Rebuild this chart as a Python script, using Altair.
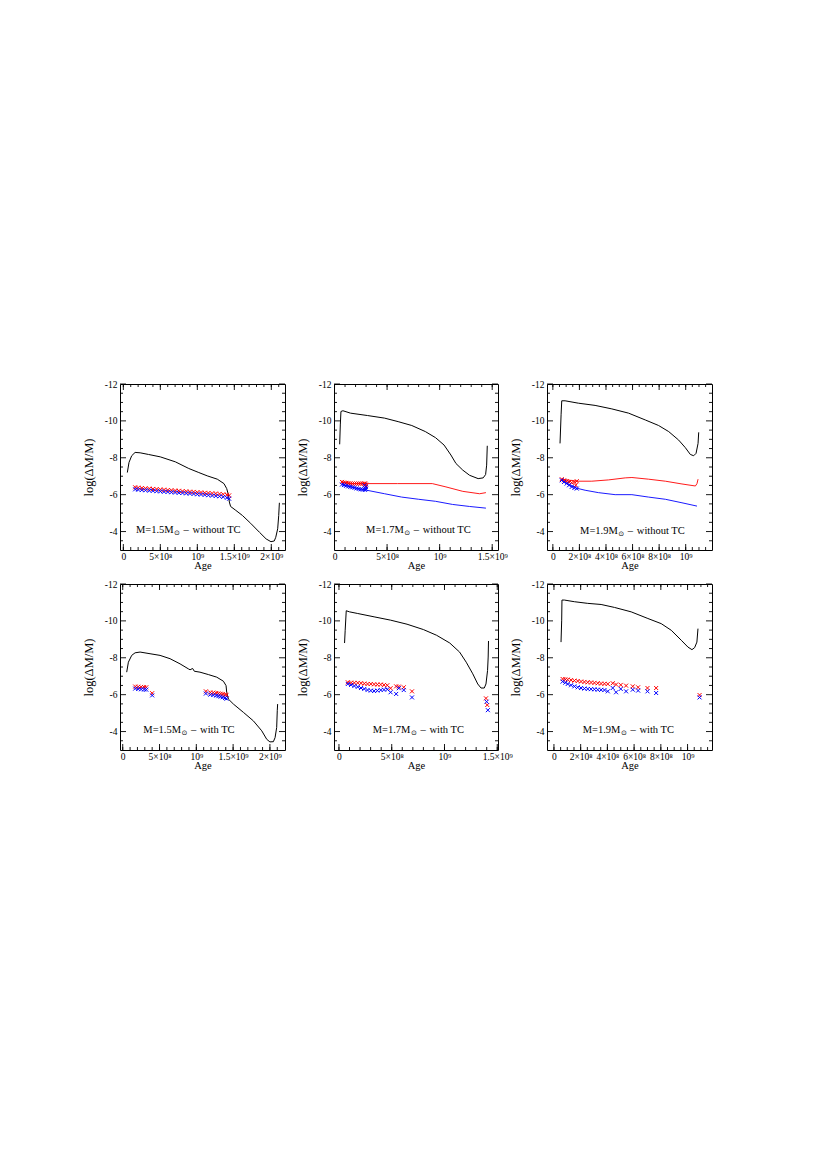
import altair as alt
import pandas as pd

FONT = "Liberation Serif"
RED = "#ff0000"
BLUE = "#0000ff"
SUN = "\u2299"
CROSS = "M-1,-1L1,1M-1,1L1,-1"

# ---------------- axis ticks / labels ----------------
Y_MAJOR = [-12, -10, -8, -6, -4]
Y_MINOR = [-11.5, -11, -10.5, -9.5, -9, -8.5, -7.5, -7, -6.5, -5.5, -5, -4.5, -3.5]
X_MAJOR_A = [0.0, 5e8, 1e9, 1.5e9, 2e9]
X_LABEL_A = ["0", "5×10⁸", "10⁹", "1.5×10⁹", "2×10⁹"]
X_MAJOR_B = [0.0, 5e8, 1e9, 1.5e9]
X_LABEL_B = ["0", "5×10⁸", "10⁹", "1.5×10⁹"]
X_MAJOR_C = [0.0, 2e8, 4e8, 6e8, 8e8, 1e9]
X_LABEL_C = ["0", "2×10⁸", "4×10⁸", "6×10⁸", "8×10⁸", "10⁹"]
X_MINOR_A = [i * 1e8 for i in range(0, 22)]
X_MINOR_B = [i * 1e8 for i in range(0, 16)]
X_MINOR_C = [i * 5e7 for i in range(0, 24)]

# ---------------- data (ages in units of 1e9 yr) ----------------
# Panel 1: M=1.5, without TC
p1_black_age = [0.054, 0.077, 0.113, 0.159, 0.227, 0.34, 0.499, 0.703, 0.884, 1.02, 1.134, 1.27, 1.36, 1.397,
                1.42, 1.433, 1.45, 1.52, 1.61, 1.72, 1.84, 1.93, 1.995, 2.04, 2.06, 2.086, 2.1, 2.109]
p1_black_val = [-7.2, -7.75, -8.11, -8.29, -8.27, -8.18, -8.05, -7.78, -7.42, -7.2, -7.02, -6.84, -6.6, -6.33,
                -6.0, -5.6, -5.36, -5.15, -4.87, -4.45, -3.96, -3.6, -3.45, -3.49, -3.69, -4.15, -4.87, -5.56]
p1_band_age = [0.16, 0.2, 0.25, 0.3, 0.35, 0.4, 0.45, 0.5, 0.55, 0.6, 0.65, 0.7, 0.75, 0.8, 0.85, 0.9, 0.95,
               1.0, 1.05, 1.1, 1.15, 1.2, 1.25, 1.3, 1.35, 1.4, 1.43]
p1_red_val = [-6.40, -6.38, -6.36, -6.34, -6.33, -6.31, -6.30, -6.28, -6.27, -6.25, -6.24, -6.22, -6.21, -6.19,
              -6.18, -6.16, -6.15, -6.13, -6.12, -6.10, -6.09, -6.07, -6.06, -6.04, -6.02, -5.99, -5.96]
p1_blue_val = [-6.29, -6.27, -6.25, -6.24, -6.22, -6.21, -6.19, -6.18, -6.16, -6.15, -6.13, -6.12, -6.10, -6.09,
               -6.07, -6.06, -6.04, -6.02, -6.01, -5.99, -5.97, -5.95, -5.93, -5.91, -5.88, -5.83, -5.78]

# Panel 2: M=1.7, without TC
p2_black_age = [0.049, 0.055, 0.061, 0.08, 0.152, 0.314, 0.476, 0.605, 0.735, 0.864, 0.961, 1.042, 1.107, 1.155,
                1.22, 1.285, 1.366, 1.414, 1.437, 1.447, 1.453]
p2_black_val = [-8.73, -9.78, -10.51, -10.55, -10.42, -10.29, -10.15, -9.96, -9.75, -9.42, -9.09, -8.69, -8.15,
                -7.69, -7.33, -7.05, -6.87, -6.91, -7.09, -7.6, -8.65]
p2_redl_age = [0.071, 0.15, 0.298, 0.6, 0.93, 1.06, 1.22, 1.38, 1.44]
p2_redl_val = [-6.67, -6.6, -6.6, -6.6, -6.6, -6.42, -6.18, -6.05, -6.11]
p2_bluel_age = [0.071, 0.168, 0.298, 0.476, 0.638, 0.8, 0.961, 1.123, 1.285, 1.44]
p2_bluel_val = [-6.55, -6.4, -6.25, -6.05, -5.87, -5.75, -5.64, -5.47, -5.36, -5.27]
p2_pts_age = [0.071, 0.09, 0.11, 0.13, 0.15, 0.17, 0.19, 0.21, 0.23, 0.25, 0.27, 0.29, 0.298, 0.298, 0.285]
p2_redp_val = [-6.69, -6.66, -6.64, -6.62, -6.61, -6.6, -6.6, -6.6, -6.6, -6.6, -6.6, -6.6, -6.55, -6.47, -6.6]
p2_bluep_val = [-6.55, -6.52, -6.48, -6.45, -6.42, -6.4, -6.37, -6.34, -6.31, -6.29, -6.27, -6.26, -6.32, -6.42, -6.5]

# Panel 3: M=1.9, without TC
p3_black_age = [0.054, 0.062, 0.067, 0.092, 0.192, 0.318, 0.444, 0.57, 0.696, 0.796, 0.872, 0.947, 0.997, 1.035,
                1.06, 1.078, 1.093, 1.098]
p3_black_val = [-8.78, -10.33, -11.09, -11.09, -10.96, -10.84, -10.65, -10.42, -10.05, -9.75, -9.42, -8.96, -8.55,
                -8.18, -8.11, -8.24, -8.78, -9.38]
p3_redl_age = [0.067, 0.18, 0.293, 0.419, 0.545, 0.595, 0.72, 0.847, 0.972, 1.073, 1.085, 1.093]
p3_redl_val = [-6.84, -6.73, -6.73, -6.8, -6.91, -6.93, -6.84, -6.73, -6.58, -6.47, -6.6, -6.84]
p3_bluel_age = [0.067, 0.18, 0.243, 0.343, 0.469, 0.595, 0.72, 0.847, 0.972, 1.085]
p3_bluel_val = [-6.78, -6.35, -6.24, -6.11, -6.0, -6.0, -5.87, -5.75, -5.56, -5.38]
p3_redp_age = [0.067, 0.085, 0.104, 0.122, 0.142, 0.162, 0.18, 0.173]
p3_redp_val = [-6.84, -6.78, -6.73, -6.69, -6.65, -6.69, -6.73, -6.51]
p3_bluep_age = [0.067, 0.085, 0.104, 0.122, 0.142, 0.162, 0.18]
p3_bluep_val = [-6.78, -6.69, -6.6, -6.51, -6.42, -6.36, -6.33]

# Panel 4: M=1.5, with TC
p4_black_age = [0.054, 0.077, 0.122, 0.168, 0.236, 0.371, 0.507, 0.643, 0.779, 0.892, 0.915, 0.95, 0.973, 1.05,
                1.163, 1.277, 1.368, 1.404, 1.413, 1.436, 1.504, 1.64, 1.775, 1.889, 1.957, 2.0, 2.047, 2.07,
                2.092, 2.1, 2.105]
p4_black_val = [-7.22, -7.76, -8.13, -8.27, -8.31, -8.22, -8.13, -7.95, -7.67, -7.4, -7.35, -7.42, -7.27, -7.22,
                -7.09, -6.95, -6.73, -6.49, -6.13, -5.76, -5.49, -5.04, -4.58, -4.04, -3.58, -3.44, -3.45, -3.67,
                -4.22, -5.13, -5.49]
p4_pts_age = [0.17, 0.21, 0.25, 0.29, 0.32, 0.40, 1.13, 1.19, 1.23, 1.27, 1.30, 1.33, 1.36, 1.39, 1.41]
p4_red_val = [-6.44, -6.43, -6.42, -6.41, -6.40, -6.08, -6.18, -6.12, -6.11, -6.09, -6.07, -6.05, -6.03, -6.01, -5.99]
p4_blue_val = [-6.33, -6.31, -6.29, -6.28, -6.27, -5.96, -6.06, -6.0, -5.98, -5.95, -5.92, -5.89, -5.86, -5.82, -5.78]

# Panel 5: M=1.7, with TC
p5_black_age = [0.053, 0.059, 0.069, 0.1, 0.178, 0.333, 0.489, 0.645, 0.8, 0.925, 1.05, 1.143, 1.206, 1.268,
                1.315, 1.346, 1.377, 1.393, 1.408, 1.414, 1.417]
p5_black_val = [-8.8, -9.49, -10.55, -10.49, -10.4, -10.22, -10.04, -9.82, -9.53, -9.22, -8.8, -8.31, -7.76, -7.13,
                -6.58, -6.36, -6.36, -6.58, -7.31, -8.04, -8.91]
p5_red_age = [0.084, 0.115, 0.146, 0.178, 0.209, 0.24, 0.271, 0.302, 0.333, 0.364, 0.396, 0.427, 0.458, 0.489,
              0.542, 0.567, 0.614, 0.692, 1.393, 1.405]
p5_red_val = [-6.67, -6.65, -6.64, -6.64, -6.62, -6.6, -6.58, -6.58, -6.56, -6.55, -6.55, -6.53, -6.51, -6.35,
              -6.45, -6.44, -6.4, -6.18, -5.8, -5.44]
p5_blue_age = [0.084, 0.115, 0.146, 0.178, 0.209, 0.24, 0.271, 0.302, 0.333, 0.364, 0.396, 0.427, 0.458, 0.489,
               0.542, 0.567, 0.614, 0.692, 1.399, 1.411]
p5_blue_val = [-6.58, -6.53, -6.47, -6.42, -6.36, -6.31, -6.25, -6.22, -6.2, -6.22, -6.25, -6.27, -6.29, -6.13,
               -6.04, -6.35, -6.25, -5.85, -5.62, -5.16]

# Panel 6: M=1.9, with TC
p6_black_age = [0.053, 0.058, 0.06, 0.078, 0.153, 0.253, 0.353, 0.453, 0.578, 0.703, 0.803, 0.878, 0.953, 1.003,
                1.033, 1.053, 1.07, 1.078]
p6_black_val = [-8.85, -10.04, -11.13, -11.13, -11.04, -10.95, -10.89, -10.73, -10.49, -10.13, -9.85, -9.49, -8.95,
                -8.58, -8.44, -8.55, -8.85, -9.58]
p6_pts_age = [0.065, 0.085, 0.103, 0.128, 0.153, 0.178, 0.203, 0.228, 0.253, 0.278, 0.303, 0.328, 0.353, 0.378,
              0.403, 0.44, 0.465, 0.50, 0.54, 0.59, 0.63, 0.70, 0.765, 1.09]
p6_red_val = [-6.85, -6.83, -6.82, -6.79, -6.76, -6.74, -6.71, -6.69, -6.67, -6.66, -6.64, -6.62, -6.6, -6.59,
              -6.58, -6.62, -6.55, -6.53, -6.49, -6.45, -6.4, -6.36, -6.36, -5.98]
p6_blue_val = [-6.71, -6.65, -6.58, -6.51, -6.45, -6.4, -6.36, -6.33, -6.31, -6.3, -6.29, -6.27, -6.26, -6.25,
               -6.18, -6.36, -6.13, -6.31, -6.18, -6.27, -6.22, -6.18, -6.09, -5.85]

# ---------------- helpers ----------------
EM = {"M": 0.889, "=": 0.564, ".": 0.25, " ": 0.25, "–": 0.5}


def text_w(s, fs):
    return sum(EM.get(c, 0.5) for c in s) * fs


def df(a, v):
    return pd.DataFrame({"age": [x * 1e9 for x in a], "val": list(v), "i": list(range(len(a)))})


def panel(w, h, xdom, xmaj, xlab, xmin, black, lines, points, mass, tc, tpos):
    xs = alt.Scale(domain=[xdom[0] * 1e9, xdom[1] * 1e9], nice=False, zero=False)
    ys = alt.Scale(domain=[-12, -3], reverse=True, nice=False, zero=False)
    lab_expr = "[%s][indexof([%s], datum.value)]" % (
        ",".join("'%s'" % s for s in xlab), ",".join(repr(float(v)) for v in xmaj))
    xenc = alt.X("age:Q", scale=xs, axis=alt.Axis(
        values=list(xmaj), labelExpr=lab_expr, ticks=False, domain=False, grid=False,
        labelFlush=False, labelOverlap=False, labelPadding=1, labelFontSize=9.5,
        title="Age", titleFontSize=10.5, titleY=15.5, titleBaseline="middle"))
    yenc = alt.Y("val:Q", scale=ys, axis=alt.Axis(
        values=Y_MAJOR, labelExpr="'-' + (-datum.value)", ticks=False, domain=False, grid=False,
        labelFlush=False, labelOverlap=False, labelPadding=3, labelFontSize=9.5,
        title="log(ΔM/M)", titleFontSize=12.5, titleX=-32, titleY=h / 2, titleBaseline="middle"))

    layers = []
    for vals, L in ((xmin, 3), (xmaj, 6)):
        d = pd.DataFrame({"age": list(vals)})
        layers.append(alt.Chart(d).mark_rule(color="black", strokeWidth=0.9).encode(
            x=xenc, y=alt.value(h), y2=alt.value(h - L)))
        layers.append(alt.Chart(d).mark_rule(color="black", strokeWidth=0.9).encode(
            x=xenc, y=alt.value(0), y2=alt.value(L)))
    for vals, L in ((Y_MINOR, 3), (Y_MAJOR, 6)):
        d = pd.DataFrame({"val": list(vals)})
        layers.append(alt.Chart(d).mark_rule(color="black", strokeWidth=0.9).encode(
            y=yenc, x=alt.value(0), x2=alt.value(L)))
        layers.append(alt.Chart(d).mark_rule(color="black", strokeWidth=0.9).encode(
            y=yenc, x=alt.value(w), x2=alt.value(w - L)))

    layers.append(alt.Chart(df(*black)).mark_line(color="black", strokeWidth=1, clip=True).encode(
        x=xenc, y=yenc, order="i:Q"))
    for (a, v, col) in lines:
        layers.append(alt.Chart(df(a, v)).mark_line(color=col, strokeWidth=0.9, clip=True).encode(
            x=xenc, y=yenc, order="i:Q"))
    for (a, v, col) in points:
        layers.append(alt.Chart(df(a, v)).mark_point(shape=CROSS, size=16, filled=False, color=col,
                                                     strokeWidth=1, opacity=1, clip=True).encode(
            x=xenc, y=yenc))

    fs = 10.5
    t1 = "M=%sM" % mass
    t3 = "%s TC" % tc
    w1 = text_w(t1, fs)
    td = pd.DataFrame({"age": [tpos[0] * 1e9], "val": [tpos[1]]})
    pieces = [(t1, FONT, fs, 0, 0), (SUN, "DejaVu Sans", 7, w1 + 0.5, 3),
              ("\u2013", FONT, fs, w1 + 10, 0), (t3, FONT, fs, w1 + 19, 0)]
    for txt, fnt, size, dx, dy in pieces:
        layers.append(alt.Chart(td).mark_text(text=txt, font=fnt, fontSize=size, align="left",
                                              baseline="middle", dx=dx, dy=dy, color="black").encode(
            x=xenc, y=yenc))
    return alt.layer(*layers).properties(width=w, height=h)


H = 166
W1, W2, W3 = 165, 164, 165
p1 = panel(W1, H, (-0.045, 2.185), X_MAJOR_A, X_LABEL_A, X_MINOR_A,
           (p1_black_age, p1_black_val), [],
           [(p1_band_age, p1_red_val, RED), (p1_band_age, p1_blue_val, BLUE)],
           "1.5", "without", (0.17, -4.1))
p2 = panel(W2, H, (-0.005, 1.555), X_MAJOR_B, X_LABEL_B, X_MINOR_B,
           (p2_black_age, p2_black_val),
           [(p2_redl_age, p2_redl_val, RED), (p2_bluel_age, p2_bluel_val, BLUE)],
           [(p2_pts_age, p2_redp_val, RED), (p2_pts_age, p2_bluep_val, BLUE)],
           "1.7", "without", (0.30, -4.1))
p3 = panel(W3, H, (-0.044, 1.198), X_MAJOR_C, X_LABEL_C, X_MINOR_C,
           (p3_black_age, p3_black_val),
           [(p3_redl_age, p3_redl_val, RED), (p3_bluel_age, p3_bluel_val, BLUE)],
           [(p3_redp_age, p3_redp_val, RED), (p3_bluep_age, p3_bluep_val, BLUE)],
           "1.9", "without", (0.205, -4.05))
p4 = panel(W1, H, (-0.037, 2.205), X_MAJOR_A, X_LABEL_A, X_MINOR_A,
           (p4_black_age, p4_black_val), [],
           [(p4_pts_age, p4_red_val, RED), (p4_pts_age, p4_blue_val, BLUE)],
           "1.5", "with", (0.28, -4.1))
p5 = panel(W2, H, (-0.047, 1.507), X_MAJOR_B, X_LABEL_B, X_MINOR_B,
           (p5_black_age, p5_black_val), [],
           [(p5_red_age, p5_red_val, RED), (p5_blue_age, p5_blue_val, BLUE)],
           "1.7", "with", (0.32, -4.1))
p6 = panel(W3, H, (-0.052, 1.183), X_MAJOR_C, X_LABEL_C, X_MINOR_C,
           (p6_black_age, p6_black_val), [],
           [(p6_pts_age, p6_red_val, RED), (p6_pts_age, p6_blue_val, BLUE)],
           "1.9", "with", (0.215, -4.1))

chart = alt.concat(p1, p2, p3, p4, p5, p6, columns=3,
                   spacing={"row": 34, "column": 49}, bounds="flush").properties(
    padding={"left": 73, "top": 370, "right": 20, "bottom": 20},
    background="white",
).configure_view(stroke="black", strokeWidth=1).configure_axis(
    labelFont=FONT, titleFont=FONT, labelColor="black", titleColor="black", titleFontWeight="normal"
)

chart.save("out.html", embed_options={"renderer": "svg", "actions": False})
